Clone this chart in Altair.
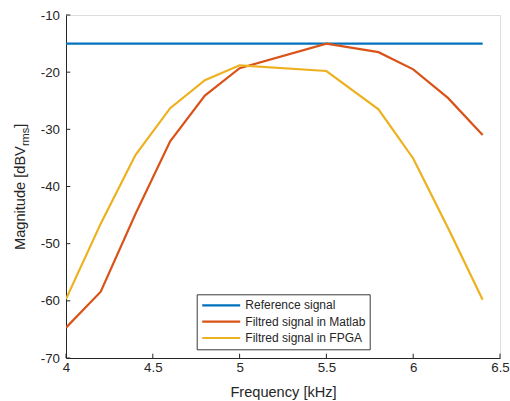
import altair as alt
import pandas as pd

freq = [4.0, 4.2, 4.4, 4.6, 4.8, 5.0, 5.5, 5.8, 6.0, 6.2, 6.4]
reference = [-15.0] * len(freq)
matlab = [-64.7, -58.4, -44.8, -32.1, -24.1, -19.3, -15.0, -16.5, -19.5, -24.5, -31.0]
fpga = [-59.7, -46.5, -34.5, -26.3, -21.4, -18.8, -19.8, -26.5, -35.1, -47.2, -59.8]
series_names = ["Reference signal", "Filtred signal in Matlab", "Filtred signal in FPGA"]
series_colors = ["#0072BD", "#D95319", "#EDB120"]
x_ticks = [4, 4.5, 5, 5.5, 6, 6.5]
y_ticks = [-70, -60, -50, -40, -30, -20, -10]

rows = []
for i, (name, vals) in enumerate(zip(series_names, [reference, matlab, fpga])):
    for f, v in zip(freq, vals):
        rows.append({"freq": f, "mag": v, "series": name, "order": i})
df = pd.DataFrame(rows)

W, H = 434, 343
FONT = "Liberation Sans"
TXT = "#262626"

xscale = alt.Scale(domain=[4, 6.5], nice=False, zero=False)
yscale = alt.Scale(domain=[-70, -10], nice=False, zero=False)

xaxis = alt.Axis(values=x_ticks, labelExpr="toString(datum.value)", ticks=False, tickSize=0,
                 labelPadding=2, labelFlush=False, grid=False, domainColor=TXT, domainWidth=1,
                 labelColor=TXT, labelFont=FONT, labelFontSize=13.3,
                 title="Frequency [kHz]", titleFont=FONT, titleFontSize=14.6,
                 titleFontWeight="normal", titleColor=TXT, titleY=38.5,
                 titleBaseline="alphabetic")
yaxis = alt.Axis(values=y_ticks, labelExpr="toString(datum.value)", ticks=False, tickSize=0,
                 labelPadding=6.5, labelFlush=False, grid=False, domainColor=TXT, domainWidth=1,
                 labelColor=TXT, labelFont=FONT, labelFontSize=13.3, title=None)

lines = alt.Chart(df).mark_line(strokeWidth=2.2, clip=True).encode(
    x=alt.X("freq:Q", scale=xscale, axis=xaxis),
    y=alt.Y("mag:Q", scale=yscale, axis=yaxis),
    color=alt.Color("series:N", sort=series_names,
                    scale=alt.Scale(domain=series_names, range=series_colors),
                    legend=alt.Legend(title=None, orient="none", legendX=130.7, legendY=279.3,
                                      symbolType="stroke", symbolSize=1444, symbolStrokeWidth=2.2,
                                      clipHeight=14, rowPadding=2.35, padding=4, labelOffset=3.6,
                                      labelFont=FONT, labelFontSize=12, labelColor=TXT,
                                      strokeColor="#3a3a3a", fillColor="white")),
    order=alt.Order("order:Q"),
)

xt = alt.Chart(pd.DataFrame({"freq": x_ticks})).mark_rule(color=TXT, strokeWidth=1).encode(
    x=alt.X("freq:Q", scale=xscale, axis=xaxis),
    y=alt.value(H), y2=alt.value(H - 4.3),
)
yt = alt.Chart(pd.DataFrame({"mag": y_ticks})).mark_rule(color=TXT, strokeWidth=1).encode(
    y=alt.Y("mag:Q", scale=yscale, axis=yaxis),
    x=alt.value(0), x2=alt.value(4.3),
)

t_main = alt.Chart(alt.Data(values=[{"a": 1}])).mark_text(
    text="Magnitude [dBV", angle=270, align="left", baseline="alphabetic",
    font=FONT, fontSize=14.6, color=TXT
).encode(x=alt.value(-41), y=alt.value(250 - 15))
t_sub = alt.Chart(alt.Data(values=[{"a": 1}])).mark_text(
    text="rms", angle=270, align="left", baseline="alphabetic",
    font=FONT, fontSize=11, color=TXT
).encode(x=alt.value(-37.5), y=alt.value(250 - 15 - 103.9))
t_end = alt.Chart(alt.Data(values=[{"a": 1}])).mark_text(
    text="]", angle=270, align="left", baseline="alphabetic",
    font=FONT, fontSize=14.6, color=TXT
).encode(x=alt.value(-41), y=alt.value(250 - 15 - 103.9 - 18.3))

chart = alt.layer(lines, xt, yt, t_main, t_sub, t_end).properties(
    width=W, height=H,
    autosize=alt.AutoSizeParams(type="none"),
    padding={"left": 66, "top": 15, "right": 10, "bottom": 43},
).configure_view(stroke=None).configure(background="white")

chart.save("out.html", embed_options={"renderer": "svg", "actions": False})
